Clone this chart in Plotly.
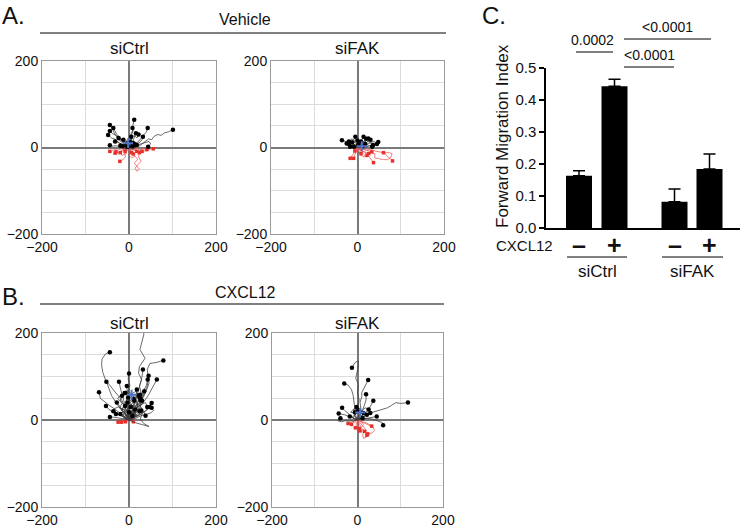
import plotly.graph_objects as go

W, H = 745, 528
FONT = "Arial, Liberation Sans, sans-serif"

# cell tracks (um); every track starts at the origin
veh_ctrl_up = [
    [(0, 0), (5, 8), (3, 15), (8, 22), (6, 30), (10, 40), (9, 52), (12, 64)],
    [(0, 0), (-6, 5), (-12, 10), (-18, 18), (-25, 25), (-32, 30), (-38, 42), (-44, 52)],
    [(0, 0), (-5, 10), (-14, 16), (-20, 22), (-28, 30), (-36, 45)],
    [(0, 0), (-8, 4), (-16, 12), (-24, 18), (-30, 28), (-38, 32), (-44, 38)],
    [(0, 0), (-10, 6), (-22, 10), (-30, 18), (-40, 22), (-48, 29)],
    [(0, 0), (4, 6), (2, 14), (6, 22), (4, 30), (8, 38), (8, 45)],
    [(0, 0), (6, 4), (12, 10), (10, 18), (14, 26), (16, 33)],
    [(0, 0), (8, 4), (15, 10), (22, 14), (28, 22), (34, 28), (40, 36), (43, 45)],
    [(0, 0), (10, 2), (18, 8), (25, 12), (30, 18), (32, 25)],
    [(0, 0), (12, 4), (22, 2), (30, 8), (38, 14), (45, 20), (52, 18), (58, 26),
     (66, 30), (74, 28), (82, 34), (90, 36), (101, 41)],
    [(0, 0), (-6, 3), (-14, 6), (-20, 10), (-26, 12), (-32, 14)],
    [(0, 0), (-10, -2), (-20, 2), (-30, 4), (-38, 3), (-44, 5)],
    [(0, 0), (-4, 5), (-8, 10), (-10, 14), (-13, 18)],
    [(0, 0), (2, 6), (6, 12), (4, 18), (5, 25)],
    [(0, 0), (-3, 3), (-6, 5), (-5, 9)],
    [(0, 0), (4, 2), (8, 6), (10, 10)],
    [(0, 0), (6, -1), (12, 2), (14, 5)],
    [(0, 0), (-4, -1), (-10, 1), (-15, 3)],
    [(0, 0), (-2, 4), (0, 8), (3, 12)],
    [(0, 0), (3, -2), (6, 1), (8, 3)],
    [(0, 0), (-6, 1), (-10, 4), (-20, 4)],
    [(0, 0), (2, 2), (-2, 6), (-3, 2)],
    [(0, 0), (5, 5), (10, 2), (12, 8)],
    [(0, 0), (20, 6), (36, 10), (46, 14), (50, 8), (44, 2)],
    [(0, 0), (-8, 8), (-4, 14), (-12, 20), (-18, 16), (-24, 22)],
    [(0, 0), (10, 12), (4, 20), (12, 28), (18, 22), (22, 30)],
    [(0, 0), (-6, -4), (-12, 0), (-8, 6)],
    [(0, 0), (8, -4), (14, 0), (18, 6)],
]
veh_ctrl_down = [
    [(0, 0), (-8, -3), (-16, -2), (-25, -6), (-34, -5), (-44, -9)],
    [(0, 0), (-6, -5), (-14, -4), (-22, -10), (-32, -13)],
    [(0, 0), (-4, -8), (-10, -14), (-8, -22), (-14, -28), (-21, -32)],
    [(0, 0), (8, -3), (16, -1), (24, -5), (32, -2), (40, -6), (48, -4), (56, -3)],
    [(0, 0), (6, -6), (14, -4), (22, -8), (30, -5), (36, -8), (41, -5)],
    [(0, 0), (3, -5), (6, -12)],
    [(0, 0), (6, -4), (12, -6), (18, -9)],
    [(0, 0), (-4, -3), (-9, -9)],
    [(0, 0), (4, -6), (8, -10), (10, -15)],
    [(0, 0), (4, -10), (0, -18), (6, -24), (14, -20), (20, -28), (12, -36), (18, -44),
     (24, -50), (18, -55), (14, -48), (20, -40), (28, -32), (22, -22), (24, -12)],
    [(0, 0), (-10, -4), (-18, -10), (-24, -14), (-30, -10)],
    [(0, 0), (10, -4), (20, -8), (26, -12), (30, -9)],
    [(0, 0), (-12, -8), (-6, -14), (-16, -18), (-20, -12)],
]

veh_fak_up = [
    [(0, 0), (-6, 4), (-12, 6), (-18, 10), (-24, 12), (-30, 14), (-36, 17)],
    [(0, 0), (-6, 2), (-12, 6), (-18, 7), (-25, 9)],
    [(0, 0), (-5, 1), (-10, 3), (-17, 2)],
    [(0, 0), (-2, 6), (-4, 12), (-3, 18), (-5, 25)],
    [(0, 0), (4, 6), (8, 12), (10, 18), (14, 25)],
    [(0, 0), (6, 4), (12, 10), (18, 14), (22, 18), (25, 21)],
    [(0, 0), (8, 2), (16, 5), (24, 3), (32, 6), (38, 4), (45, 8)],
    [(0, 0), (8, 5), (16, 4), (24, 8), (30, 10), (36, 14), (42, 12), (48, 13)],
    [(0, 0), (-3, 4), (-8, 8), (-12, 12)],
    [(0, 0), (3, 4), (6, 8), (8, 14)],
    [(0, 0), (6, 2), (12, 6), (18, 8)],
    [(0, 0), (-2, 2), (-6, 4), (-8, 2)],
    [(0, 0), (4, -1), (8, 2), (12, 3)],
    [(0, 0), (2, 3), (5, 4), (2, 7)],
    [(0, 0), (-4, 6), (-2, 10), (0, 16)],
    [(0, 0), (10, 5), (18, 8), (24, 14), (30, 18)],
    [(0, 0), (6, 6), (10, 12), (16, 16), (20, 20)],
    [(0, 0), (-8, 6), (-14, 10), (-20, 14)],
    [(0, 0), (12, 2), (20, 0), (26, 4), (34, 2)],
    [(0, 0), (-10, 10), (-4, 16), (-14, 20), (-20, 8)],
    [(0, 0), (14, 10), (20, 16), (28, 12), (36, 6)],
]
veh_fak_down = [
    [(0, 0), (6, -6), (10, -12), (14, -16), (20, -22), (26, -20), (30, -26), (37, -35)],
    [(0, 0), (8, -8), (16, -10), (24, -14), (32, -12), (40, -14), (40, -24), (48, -26),
     (60, -28), (70, -28), (76, -24), (80, -14), (74, -12), (62, -12), (68, -20),
     (76, -26), (81, -31)],
    [(0, 0), (10, -4), (20, -6), (30, -4), (40, -8), (50, -10), (60, -12)],
    [(0, 0), (-2, -6), (-4, -12), (-6, -18), (-9, -25)],
    [(0, 0), (-5, -5), (-8, -12), (-12, -18), (-17, -25)],
    [(0, 0), (6, -4), (12, -8), (18, -12), (22, -18)],
    [(0, 0), (8, -2), (16, -5), (24, -6), (33, -10)],
    [(0, 0), (2, -5), (4, -10), (8, -14)],
    [(0, 0), (-4, -3), (-6, -8)],
    [(0, 0), (12, -10), (6, -18), (18, -22), (26, -14)],
]

cxc_ctrl_up = [
    [(0, 0), (-4, 16), (-10, 32), (-18, 48), (-30, 62), (-42, 78), (-54, 92), (-60, 109),
     (-63, 126), (-62, 140), (-54, 152), (-44, 156)],
    [(0, 0), (8, 12), (16, 26), (24, 40), (34, 54), (40, 68), (46, 84), (44, 100),
     (42, 116), (48, 130), (62, 132), (79, 137)],
    [(0, 0), (10, 14), (20, 30), (18, 48), (28, 62), (24, 78), (29, 93), (22, 108),
     (24, 123), (37, 142), (25, 162), (34, 196), (33, 230)],
    [(0, 0), (-10, 8), (-22, 18), (-34, 26), (-46, 34), (-56, 42), (-66, 50), (-69, 64)],
    [(0, 0), (-10, 12), (-20, 26), (-30, 40), (-40, 56), (-46, 72), (-52, 88)],
    [(0, 0), (-12, 6), (-24, 12), (-36, 18), (-46, 24), (-53, 32)],
    [(0, 0), (-10, 2), (-20, 4), (-30, 6), (-44, 7)],
    [(0, 0), (-10, 6), (-18, 10), (-28, 14), (-36, 20)],
    [(0, 0), (-4, 14), (-8, 30), (-12, 46), (-16, 60), (-20, 74), (-23, 88)],
    [(0, 0), (2, 16), (-2, 32), (2, 48), (-2, 64), (2, 80), (-2, 94), (0, 107)],
    [(0, 0), (6, 18), (12, 34), (18, 52), (22, 68), (26, 84), (30, 100), (32, 116)],
    [(0, 0), (10, 16), (20, 30), (28, 46), (36, 62), (42, 78), (45, 102)],
    [(0, 0), (12, 14), (24, 28), (34, 42), (44, 56), (52, 70), (58, 80), (64, 93)],
    [(0, 0), (8, 16), (16, 32), (24, 48), (32, 64), (40, 80), (43, 93)],
    [(0, 0), (-2, 14), (-4, 30), (-6, 46), (-4, 62), (-5, 78)],
    [(0, 0), (4, 12), (8, 26), (12, 40), (16, 56), (18, 70)],
    [(0, 0), (8, 10), (16, 22), (24, 34), (30, 48), (35, 66)],
    [(0, 0), (12, 6), (24, 12), (36, 20), (46, 28), (52, 39)],
    [(0, 0), (10, 4), (22, 10), (32, 16), (40, 22), (47, 30)],
    [(0, 0), (-6, 10), (-14, 20), (-20, 30), (-28, 40)],
    [(0, 0), (4, 8), (8, 18), (10, 28), (14, 38), (10, 48)],
    [(0, 0), (10, 8), (18, 18), (26, 28), (26, 50)],
    [(0, 0), (-4, 6), (-8, 14), (-10, 22), (-9, 32)],
    [(0, 0), (6, 6), (12, 12), (16, 20), (14, 24)],
    [(0, 0), (-2, 6), (2, 12), (0, 18)],
    [(0, 0), (14, -6), (28, -10), (38, -12), (46, -15), (34, -8), (26, 2), (30, 14), (28, 22)],
    [(0, 0), (16, 4), (28, 10), (40, 14), (50, 16), (56, 22), (52, 28)],
    [(0, 0), (-8, 4), (-14, 10), (-20, 14)],
    [(0, 0), (6, 4), (12, 8), (20, 14), (24, 20)],
    [(0, 0), (-6, 12), (-16, 22), (-12, 34), (-20, 46), (-16, 56)],
    [(0, 0), (8, 6), (2, 16), (10, 24), (6, 36), (12, 44)],
    [(0, 0), (-12, 4), (-6, 14), (-18, 24), (-10, 30), (-4, 40)],
    [(0, 0), (10, 2), (16, 12), (8, 20), (20, 30), (30, 36), (26, 46)],
    [(0, 0), (4, 4), (-4, 10), (2, 16), (8, 10)],
    [(0, 0), (-10, 18), (0, 28), (-6, 38), (4, 44), (-2, 52)],
    [(0, 0), (18, 10), (10, 20), (24, 26), (34, 20), (38, 10)],
    [(0, 0), (-14, 10), (-8, 22), (-22, 28), (-16, 38), (-26, 50), (-18, 58), (-8, 62)],
    [(0, 0), (6, 20), (-6, 30), (4, 42), (14, 48), (6, 60), (16, 66), (22, 56)],
    [(0, 0), (16, 16), (8, 28), (20, 36), (12, 48), (24, 54), (30, 44)],
    [(0, 0), (-6, 8), (8, 14), (-2, 24), (10, 32), (-4, 40), (4, 30)],
    [(0, 0), (-18, 14), (-10, 22), (-24, 30), (-34, 26), (-30, 14)],
    [(0, 0), (22, 12), (32, 24), (24, 34), (38, 40), (42, 30)],
    [(0, 0), (-4, 24), (6, 36), (-4, 48), (8, 56), (-2, 68), (-10, 62)],
    [(0, 0), (12, 24), (20, 40), (10, 52), (18, 62), (26, 58)],
]
cxc_ctrl_down = [
    [(0, 0), (-8, -2), (-16, -4), (-25, -5)],
    [(0, 0), (-6, -2), (-12, -3), (-17, -5)],
    [(0, 0), (-4, -3), (-8, -4)],
    [(0, 0), (6, -2), (10, -4)],
]

cxc_fak_up = [
    [(0, 0), (4, 14), (0, 30), (4, 46), (0, 62), (2, 82), (-4, 96), (-1, 109),
     (2, 124), (2, 136), (-6, 132), (-13, 120)],
    [(0, 0), (4, 12), (8, 26), (6, 40), (10, 54), (10, 63), (18, 78), (25, 92)],
    [(0, 0), (-4, 10), (-6, 24), (-8, 40), (-10, 56), (-14, 70), (-22, 80), (-31, 84)],
    [(0, 0), (6, 10), (12, 22), (16, 34), (20, 46), (20, 59)],
    [(0, 0), (10, 8), (18, 16), (26, 24), (32, 34), (37, 44)],
    [(0, 0), (12, 8), (24, 14), (36, 18), (48, 22), (60, 26), (70, 28), (80, 34),
     (90, 40), (100, 38), (110, 40), (118, 40)],
    [(0, 0), (-8, 4), (-16, 10), (-24, 16), (-30, 22), (-36, 28)],
    [(0, 0), (-10, 4), (-20, 8), (-30, 12), (-44, 15)],
    [(0, 0), (10, 2), (20, 4), (30, 6), (38, 8), (45, 8)],
    [(0, 0), (-10, -2), (-20, -2), (-30, -2), (-38, -4), (-46, -2), (-40, 4)],
    [(0, 0), (-4, 6), (-8, 12), (-6, 18)],
    [(0, 0), (4, 6), (10, 10), (14, 16)],
    [(0, 0), (8, 4), (16, 8), (22, 12)],
    [(0, 0), (-6, 2), (-12, 6), (-18, 8)],
    [(0, 0), (2, 8), (6, 14), (4, 22)],
    [(0, 0), (6, 2), (10, 6), (12, 4)],
    [(0, 0), (12, 6), (22, 12), (30, 16)],
    [(0, 0), (20, 4), (36, 2), (48, -2), (58, -6), (60, -12)],
    [(0, 0), (-8, 10), (0, 18), (-10, 24), (-2, 30)],
    [(0, 0), (14, 12), (8, 20), (18, 28), (26, 24)],
    [(0, 0), (-12, 6), (-4, 14), (-16, 18), (-8, 26), (2, 22)],
]
cxc_fak_down = [
    [(0, 0), (-6, -2), (-12, -4), (-18, -6), (-22, -8)],
    [(0, 0), (4, -8), (8, -16), (14, -24), (18, -30), (22, -35)],
    [(0, 0), (-2, -6), (-4, -12), (-5, -18)],
    [(0, 0), (2, -8), (4, -16), (6, -25)],
    [(0, 0), (10, -4), (20, -6), (28, -10), (33, -14)],
    [(0, 0), (-4, -4), (-10, -6), (-14, -10)],
    [(0, 0), (10, -10), (18, -20), (24, -30), (20, -40), (14, -42), (12, -34), (16, -26)],
    [(0, 0), (14, -6), (26, -10), (36, -16), (40, -24), (34, -30), (24, -32)],
    [(0, 0), (8, -4), (14, -10), (10, -16), (4, -20)],
]

# centre of mass of each panel (blue cross)
centroid_x = [-2, 10, 6, 6]
centroid_y = [10, 3, 58, 17]

# panel C
fmi_group = ["siCtrl", "siCtrl", "siFAK", "siFAK"]
fmi_cxcl12 = ["-", "+", "-", "+"]
fmi_mean = [0.163, 0.443, 0.082, 0.184]
fmi_sem = [0.016, 0.022, 0.040, 0.047]
p_labels = ["0.0002", "<0.0001", "<0.0001"]


def px(x):
    return x / W


def py(y):
    return 1 - y / H


def flatten(tracks):
    xs, ys = [], []
    for t in tracks:
        for x, y in t:
            xs.append(x)
            ys.append(y)
        xs.append(None)
        ys.append(None)
    return xs, ys


fig = go.Figure()

panels = [
    (veh_ctrl_up, veh_ctrl_down, (42, 216), (61, 234)),
    (veh_fak_up, veh_fak_down, (271, 444), (61, 234)),
    (cxc_ctrl_up, cxc_ctrl_down, (42, 216), (333, 507)),
    (cxc_fak_up, cxc_fak_down, (272, 443), (333, 507)),
]

for i, (up, down, (x0, x1), (y0, y1)) in enumerate(panels):
    n = "" if i == 0 else str(i + 1)
    xa, ya = "x" + n, "y" + n
    for tracks, lcol, mcol, sym, msz in [
        (down, "rgba(238,90,90,0.85)", "#e8302a", "square", 3.5),
        (up, "rgba(60,60,60,0.85)", "black", "circle", 4.5),
    ]:
        lx, ly = flatten(tracks)
        fig.add_trace(go.Scatter(x=lx, y=ly, mode="lines", xaxis=xa, yaxis=ya,
                                 line=dict(color=lcol, width=0.9), hoverinfo="skip"))
        fig.add_trace(go.Scatter(x=[t[-1][0] for t in tracks], y=[t[-1][1] for t in tracks],
                                 mode="markers", xaxis=xa, yaxis=ya,
                                 marker=dict(color=mcol, size=msz, symbol=sym)))
    fig.add_trace(go.Scatter(x=[centroid_x[i]], y=[centroid_y[i]], mode="markers",
                             xaxis=xa, yaxis=ya,
                             marker=dict(symbol="cross-thin", size=7,
                                         line=dict(color="#4f74c8", width=2))))
    axis_common = dict(range=[-200, 200], showline=True, mirror=True, linecolor="#9a9a9a",
                       linewidth=1, showgrid=True, gridcolor="#dcdcdc", gridwidth=1,
                       zeroline=True, zerolinecolor="#7a7a7a", zerolinewidth=1.5,
                       tickvals=[-200, 0, 200], ticks="", automargin=False,
                       tickfont=dict(size=14, color="#111", family=FONT))
    fig.layout["xaxis" + n] = dict(axis_common, domain=[px(x0), px(x1)], anchor=ya,
                                   minor=dict(tickvals=[-100, 100], showgrid=True,
                                              gridcolor="#dcdcdc"))
    fig.layout["yaxis" + n] = dict(axis_common, domain=[py(y1), py(y0)], anchor=xa,
                                   minor=dict(tickvals=[-150, -100, -50, 50, 100, 150],
                                              showgrid=True, gridcolor="#dcdcdc"))

# panel C bars
bar_pos = [33, 68.5, 128.5, 163.5]
fig.add_trace(go.Bar(x=bar_pos, y=fmi_mean, width=26, xaxis="x5", yaxis="y5",
                     marker=dict(color="black", line=dict(width=0)),
                     error_y=dict(type="data", symmetric=False, array=fmi_sem,
                                  arrayminus=[0] * 4, color="black", thickness=1.5,
                                  width=6)))
fig.layout.xaxis5 = dict(domain=[px(546), px(740)], range=[0, 194], anchor="y5",
                         showline=True, linecolor="black", linewidth=1.5, automargin=False,
                         showticklabels=False, ticks="", showgrid=False, zeroline=False)
fig.layout.yaxis5 = dict(domain=[py(228), py(68)], range=[0, 0.5], anchor="x5",
                         showline=True, linecolor="black", linewidth=1.5, automargin=False,
                         ticks="outside", ticklen=5, tickwidth=1.5, tickcolor="black",
                         dtick=0.1, tickformat=".1f", showgrid=False, zeroline=False,
                         tickfont=dict(size=15, color="#111", family=FONT))

ann = []
shapes = []


def text(x, y, s, size, xanchor="center", **kw):
    ann.append(dict(x=px(x), y=py(y), xref="paper", yref="paper", text=s, showarrow=False,
                    xanchor=xanchor, yanchor="middle",
                    font=dict(size=size, color="#111", family=FONT), **kw))


def hline(x0, x1, y, width=1):
    shapes.append(dict(type="line", xref="paper", yref="paper", x0=px(x0), x1=px(x1),
                       y0=py(y), y1=py(y), line=dict(color="black", width=width)))


text(0, 16, "A.", 24, xanchor="left")
text(245, 20, "Vehicle", 16)
hline(40, 446, 33)
text(129, 48, "siCtrl", 17)
text(357, 48, "siFAK", 17)

text(0, 296, "B.", 24, xanchor="left")
text(245, 292, "CXCL12", 16)
hline(40, 444, 304)
text(129, 323, "siCtrl", 17)
text(357, 323, "siFAK", 17)

text(480, 16, "C.", 24, xanchor="left")
text(502, 136, "Forward Migration Index", 17, textangle=-90)
text(592, 40, p_labels[0], 14)
hline(576, 613, 52)
text(667, 27, p_labels[1], 14)
hline(624, 711, 39)
text(649, 55, p_labels[2], 14)
hline(624, 674, 67)

text(555, 246, "CXCL12", 15, xanchor="right")
for xp, sign in zip(bar_pos, fmi_cxcl12):
    glyph = "+" if sign == "+" else "\u2013"
    ann.append(dict(x=xp, y=py(245), xref="x5", yref="paper", text="<b>%s</b>" % glyph,
                    showarrow=False, yanchor="middle",
                    font=dict(size=25, color="#111", family=FONT)))
hline(567, 627, 257)
hline(662, 723, 257)
text(597, 271, fmi_group[0], 17)
text(692, 271, fmi_group[2], 17)

fig.update_layout(width=W, height=H, margin=dict(l=0, r=0, t=0, b=0),
                  paper_bgcolor="white", plot_bgcolor="white", showlegend=False,
                  annotations=ann, shapes=shapes, font=dict(family=FONT))

# the page body has a default 8px margin; drop it so the figure fills the window
fig.write_html("out.html", config={"displayModeBar": False},
               post_script="document.body.style.margin = '0';")
